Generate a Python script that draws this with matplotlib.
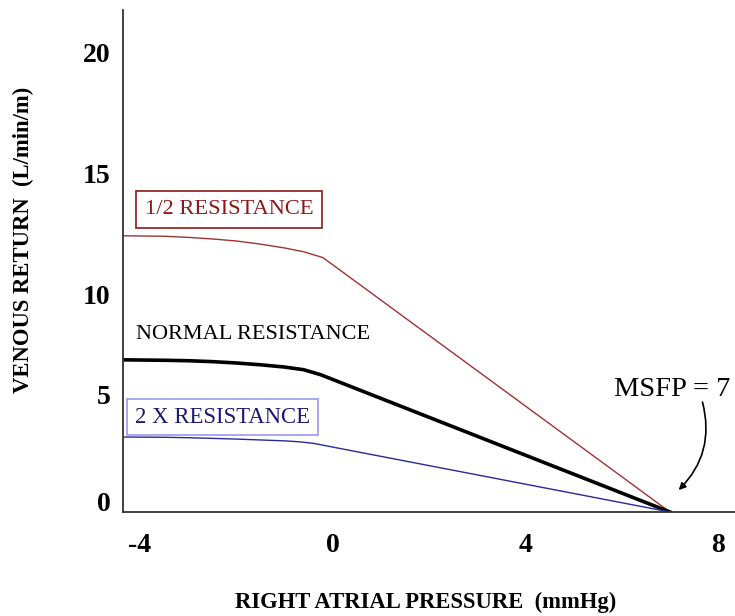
import matplotlib
matplotlib.use('Agg')
import matplotlib.pyplot as plt

plt.rcParams['font.family'] = ['Liberation Serif', 'DejaVu Serif']

# venous return curves (right atrial pressure mmHg -> L/min/m)
x_half = [-4.35, -3.5, -3.0, -2.5, -2.0, -1.5, -1.0, -0.6, -0.2, 7.0]
y_half = [12.27, 12.25, 12.2, 12.13, 12.04, 11.9, 11.73, 11.56, 11.3, 0.0]

x_normal = [-4.35, -3.5, -3.0, -2.5, -2.0, -1.5, -1.0, -0.6, -0.25, 7.0]
y_normal = [6.76, 6.74, 6.72, 6.68, 6.62, 6.54, 6.44, 6.32, 6.1, 0.0]

x_double = [-4.35, -3.5, -3.0, -2.5, -2.0, -1.5, -1.0, -0.7, -0.4, 7.0]
y_double = [3.33, 3.32, 3.3, 3.27, 3.24, 3.2, 3.16, 3.12, 3.05, 0.0]

xtick_vals = [-4, 0, 4, 8]
xtick_labels = ['-4', '0', '4', '8']
ytick_vals = [0.45, 5.2, 9.65, 15.05, 20.4]
ytick_labels = ['0', '5', '10', '15', '20']

msfp = 7

fig = plt.figure(figsize=(7.35, 6.16), dpi=100)
ax = fig.add_axes([123/735, 104/616, 612/735, 502/616])

ax.plot(x_half, y_half, color='#a03232', lw=1.0)
ax.plot(x_normal, y_normal, color='black', lw=2.6)
ax.plot(x_double, y_double, color='#2a2a90', lw=1.0)

ax.set_xlim(-4.35, 8.35)
ax.set_ylim(0, 22.3)
ax.spines['top'].set_visible(False)
ax.spines['right'].set_visible(False)
for s in ['left', 'bottom']:
    ax.spines[s].set_color('#333333')
    ax.spines[s].set_linewidth(1.3)

ax.set_xticks(xtick_vals)
ax.set_xticklabels(xtick_labels, fontsize=20, fontweight='bold')
ax.set_yticks(ytick_vals)
ax.set_yticklabels(ytick_labels, fontsize=20, fontweight='bold')
ax.tick_params(axis='x', length=0, pad=15)
ax.tick_params(axis='y', length=0, pad=9)

fig.text(426/735, 1 - 602/616, 'RIGHT ATRIAL PRESSURE  (mmHg)', fontsize=16.3,
         fontweight='bold', ha='center', va='center')
fig.text(23/735, 1 - 240/616, 'VENOUS RETURN  (L/min/m)', fontsize=16.3,
         fontweight='bold', ha='center', va='center', rotation=90)

ax.text(-3.9, 13.42, '1/2 RESISTANCE', fontsize=16.2, color='#8b1a1a',
        ha='left', va='center',
        bbox=dict(boxstyle='square,pad=0.4', fc='white', ec='#8b1a1a', lw=1.2))
ax.text(-4.07, 7.87, 'NORMAL RESISTANCE', fontsize=16, color='black',
        ha='left', va='center')
ax.text(-4.11, 4.22, '2 X RESISTANCE', fontsize=16.4, color='#1a1a70',
        ha='left', va='center',
        bbox=dict(boxstyle='square,pad=0.35', fc='white', ec='#9a9aee', lw=1.2))

ax.text(8.26, 5.42, 'MSFP = %d' % msfp, fontsize=20.5, ha='right', va='center')
ax.annotate('', xy=(7.14, 0.89), xytext=(7.66, 5.0),
            arrowprops=dict(arrowstyle='-|>', color='black', lw=1.2,
                            connectionstyle='arc3,rad=-0.3'))

fig.savefig('out.png', dpi=100)
